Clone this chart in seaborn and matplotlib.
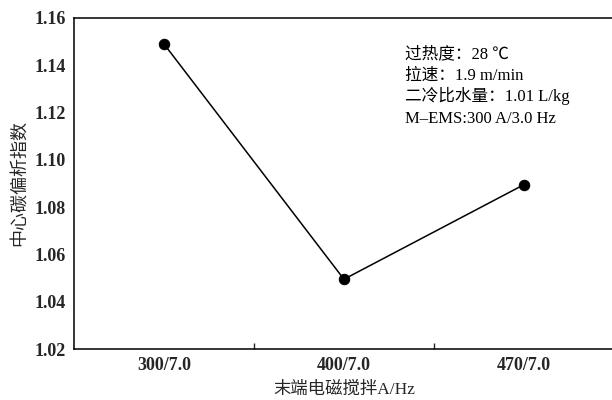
import numpy as np
import pandas as pd
import matplotlib
matplotlib.use('Agg')
import matplotlib.pyplot as plt
import seaborn as sns

# 数据
categories = ['300/7.0', '400/7.0', '470/7.0']
values = [1.149, 1.0495, 1.0895]
y_ticks = [1.02, 1.04, 1.06, 1.08, 1.10, 1.12, 1.14, 1.16]
notes = ['过热度：28 ℃', '拉速：1.9 m/min', '二冷比水量：1.01 L/kg', 'M\u2013EMS:300 A/3.0 Hz']

sns.set_style('white')
fonts = ['Liberation Serif', 'Noto Sans CJK SC', 'DejaVu Sans']
plt.rcParams['font.family'] = fonts

df = pd.DataFrame({'x': categories, 'y': values})

fig = plt.figure(figsize=(6.12, 4.0), dpi=100)
ax = fig.add_axes([0.121, 0.1275, 0.882, 0.8275])
sns.lineplot(data=df, x='x', y='y', ax=ax, color='black', linewidth=1.1,
             marker='o', markersize=7.5, markeredgecolor='black', sort=False)

ax.set_xlim(-0.5, 2.5)
ax.set_ylim(1.02, 1.16)
ax.set_yticks(y_ticks)
ax.set_yticklabels([f'{t:.2f}' for t in y_ticks], fontsize=13, fontweight='bold')
ax.set_xticks(range(len(categories)))
ax.set_xticklabels(categories, fontsize=13, fontweight='bold')
ax.set_xticks([0.5, 1.5], minor=True)
ax.tick_params(axis='both', which='major', length=0, pad=6)
ax.tick_params(axis='x', which='minor', direction='in', length=4, width=1, bottom=True)

ax.set_xlabel('末端电磁搅拌A/Hz', fontsize=12.5, labelpad=5)
ax.set_ylabel('中心碳偏析指数', fontsize=13, labelpad=4)

for s in ax.spines.values():
    s.set_color('black')
    s.set_linewidth(1.1)

for i, t in enumerate(notes):
    ax.text(0.613, 0.879 - i * 0.065, t, transform=ax.transAxes,
            fontsize=12, va='baseline', ha='left', color='black')

fig.savefig('out.png', dpi=100, facecolor='white')
